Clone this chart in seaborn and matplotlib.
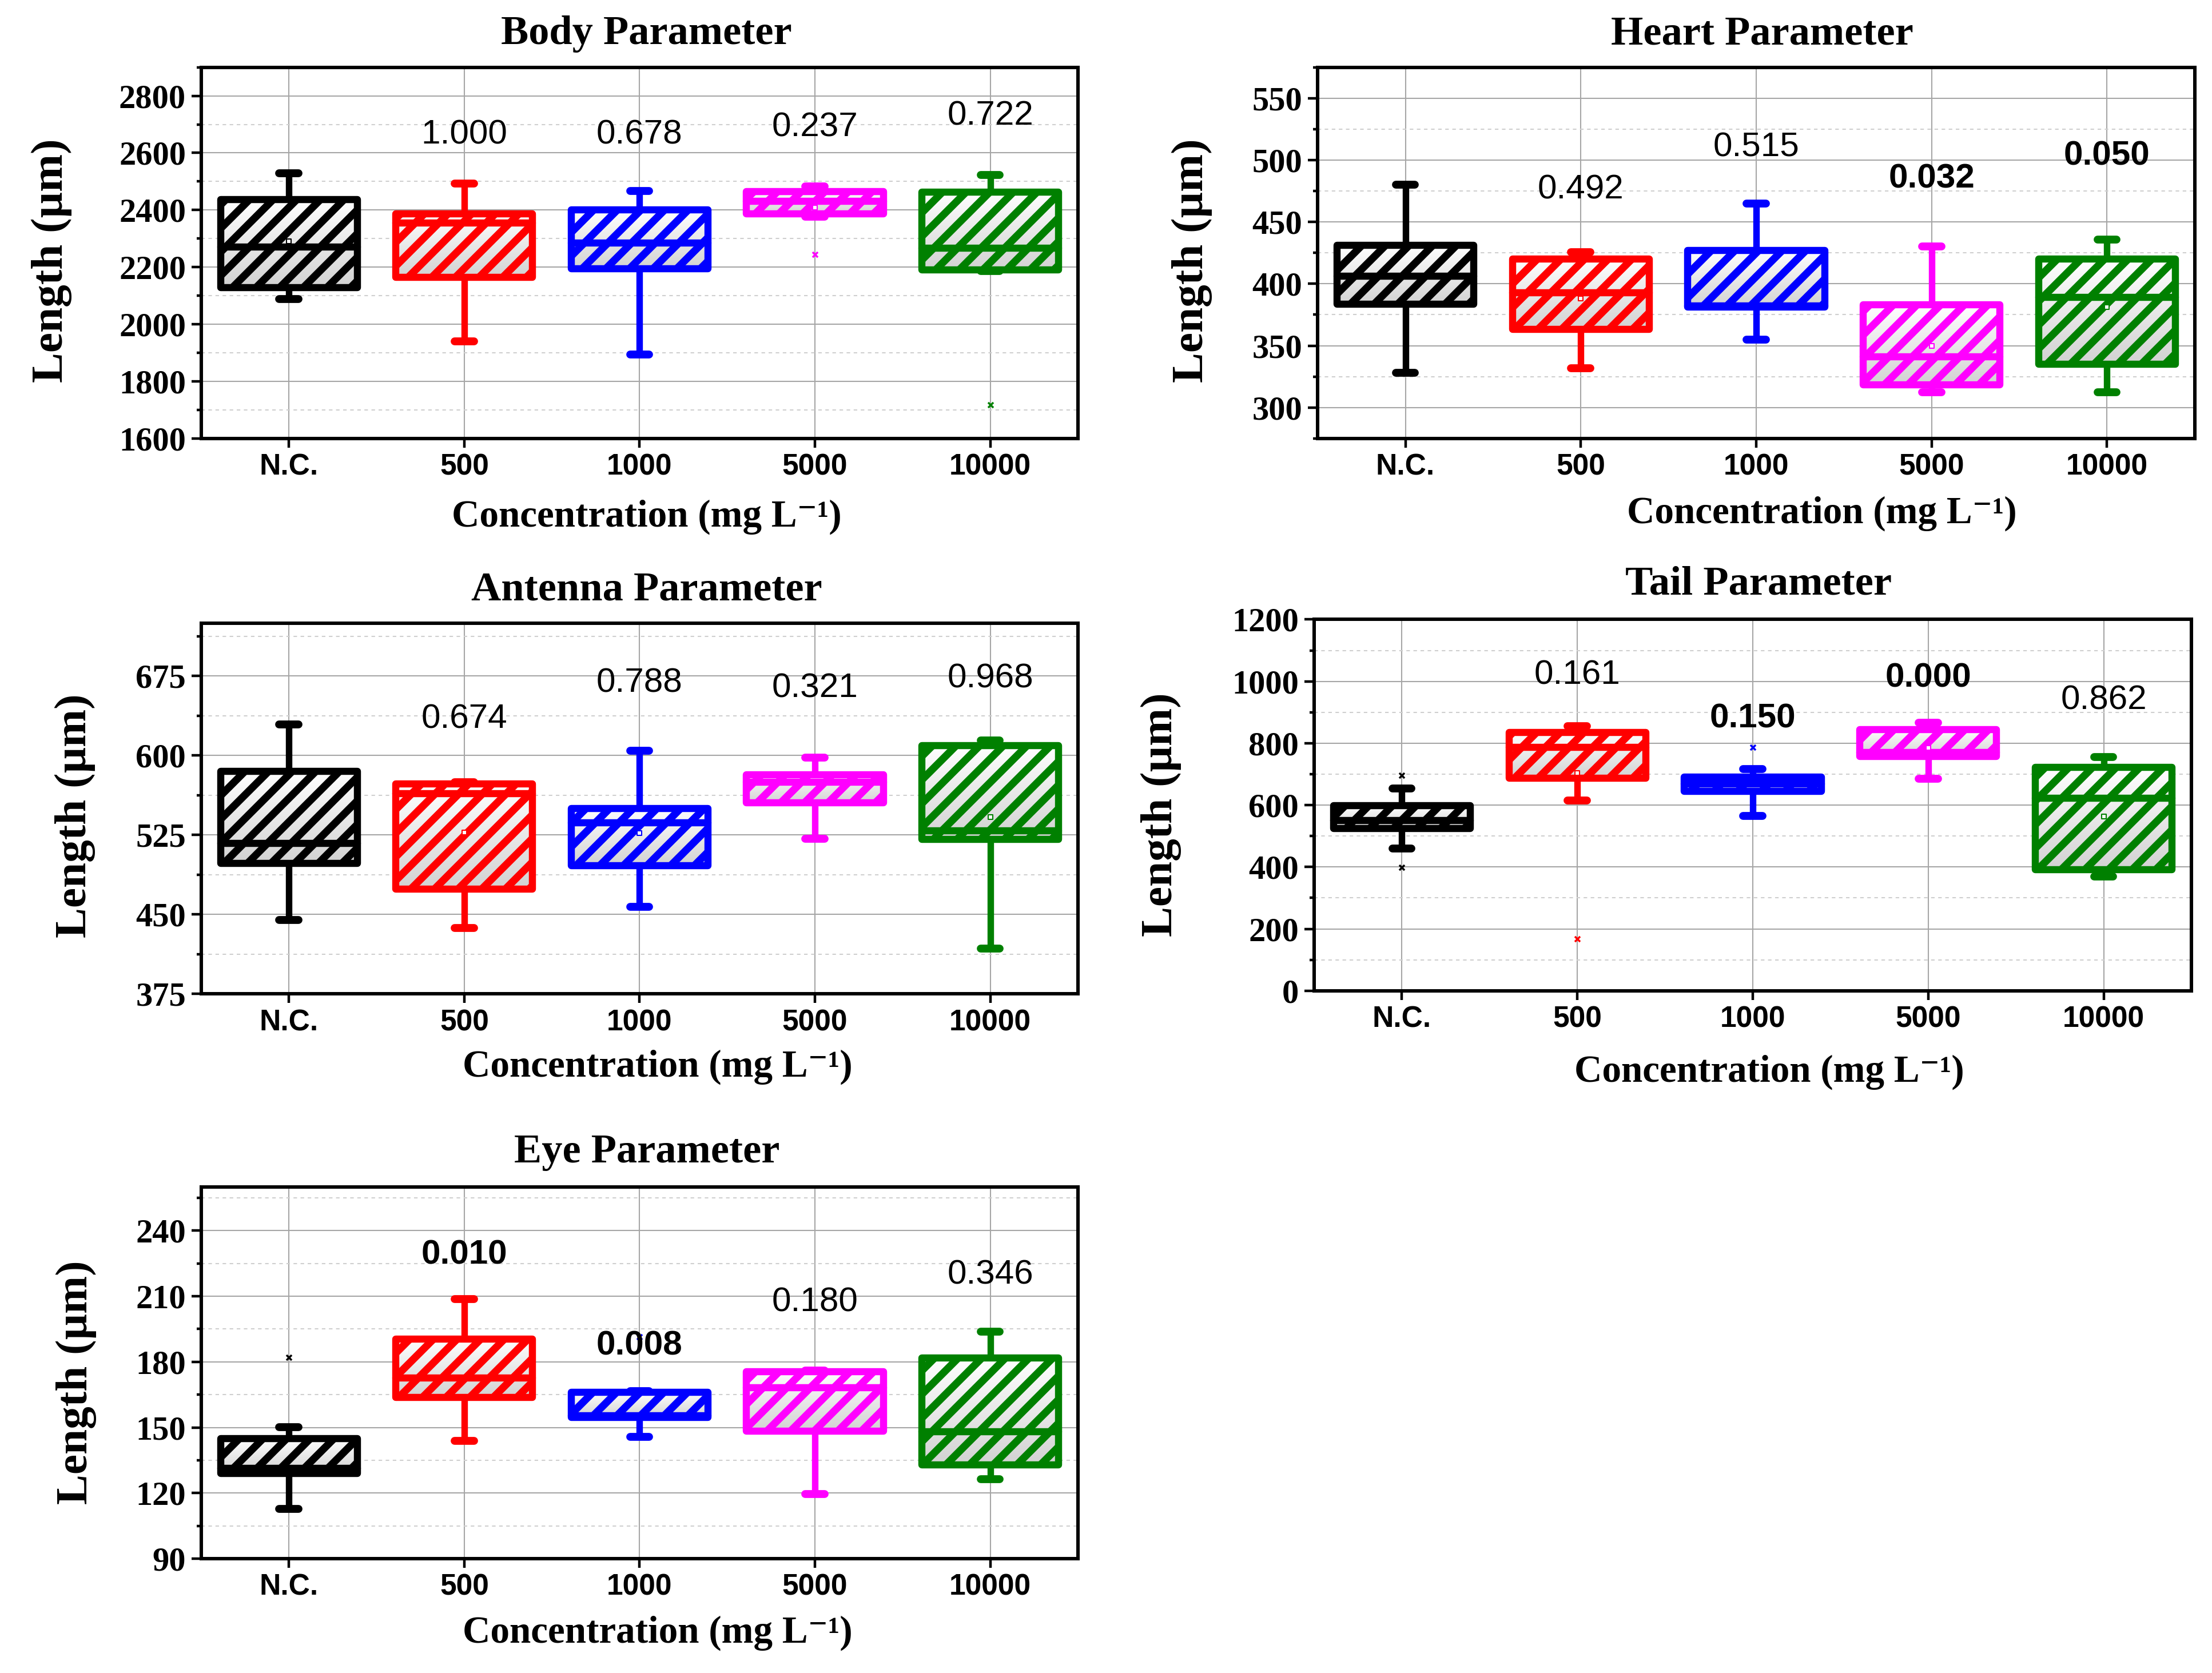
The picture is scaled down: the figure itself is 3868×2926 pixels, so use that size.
import numpy as np
import pandas as pd
import matplotlib
matplotlib.use("Agg")
import matplotlib.pyplot as plt
import seaborn as sns
from matplotlib.colors import LinearSegmentedColormap
from matplotlib.patches import PathPatch
from matplotlib.ticker import MultipleLocator

# ---------------- data ----------------
categories = ["N.C.", "500", "1000", "5000", "10000"]
box_colors = ["#000000", "#ff0000", "#0000ff", "#ff00ff", "#008000"]

# five-number summaries per concentration: whisker low, Q1, median, Q3, whisker high
body_stats = [[2088, 2128, 2270, 2437, 2529],
              [1941, 2165, 2354, 2387, 2492],
              [1894, 2195, 2284, 2400, 2467],
              [2377, 2387, 2430, 2465, 2483],
              [2186, 2190, 2266, 2463, 2523]]
body_pvalues = ["1.000", "0.678", "0.237", "0.722"]
body_pvalue_cat = ["500", "1000", "5000", "10000"]
body_pvalue_y = [2662, 2662, 2689, 2730]
body_pvalue_bold = [False, False, False, False]
body_outlier_cat = ["5000", "10000"]
body_outlier_val = [2245, 1717]
body_mean_cat = ["N.C.", "5000"]
body_mean_val = [2290, 2409]

heart_stats = [[328, 383.5, 406, 431, 480],
               [332, 363, 393, 420, 425.6],
               [355, 381, 382, 427, 465],
               [312.5, 318.6, 341, 383, 430],
               [312.5, 335, 389, 420, 435.7]]
heart_pvalues = ["0.492", "0.515", "0.032", "0.050"]
heart_pvalue_cat = ["500", "1000", "5000", "10000"]
heart_pvalue_y = [475.8, 510, 484.5, 503.3]
heart_pvalue_bold = [False, False, True, True]
heart_outlier_cat = []
heart_outlier_val = []
heart_mean_cat = ["500", "5000", "10000"]
heart_mean_val = [388, 350, 381]

antenna_stats = [[445, 498, 517, 585, 629.4],
                 [437, 474, 564, 573, 575],
                 [457, 496, 536.6, 550, 604.5],
                 [521.4, 555.3, 574.7, 582, 598.2],
                 [418, 521, 529, 609.4, 614]]
antenna_pvalues = ["0.674", "0.788", "0.321", "0.968"]
antenna_pvalue_cat = ["500", "1000", "5000", "10000"]
antenna_pvalue_y = [634, 668.4, 663.5, 672.7]
antenna_pvalue_bold = [False, False, False, False]
antenna_outlier_cat = []
antenna_outlier_val = []
antenna_mean_cat = ["500", "1000", "10000"]
antenna_mean_val = [527.5, 527, 542]

tail_stats = [[460, 525, 550, 598, 654.5],
              [615, 688, 786.5, 835, 854.4],
              [565.5, 644.5, 669.3, 690.7, 716.7],
              [686, 758, 771, 845, 866.7],
              [370, 392, 623, 722, 756]]
tail_pvalues = ["0.161", "0.150", "0.000", "0.862"]
tail_pvalue_cat = ["500", "1000", "5000", "10000"]
tail_pvalue_y = [1020, 879.6, 1011, 938]
tail_pvalue_bold = [False, True, True, False]
tail_outlier_cat = ["N.C.", "N.C.", "500", "1000"]
tail_outlier_val = [696, 398, 168, 786.5]
tail_mean_cat = ["500", "5000", "10000"]
tail_mean_val = [703, 784.6, 564]

eye_stats = [[112.7, 129, 131.3, 145, 150.2],
             [143.8, 163.8, 172.7, 190.5, 208.8],
             [145.8, 154.5, 155.5, 166, 166.5],
             [119.7, 148.4, 168.2, 175.6, 176],
             [126.3, 133, 148, 181.8, 193.8]]
eye_pvalues = ["0.010", "0.008", "0.180", "0.346"]
eye_pvalue_cat = ["500", "1000", "5000", "10000"]
eye_pvalue_y = [228.8, 187.2, 207.2, 219.7]
eye_pvalue_bold = [True, True, False, False]
eye_outlier_cat = ["N.C.", "1000"]
eye_outlier_val = [182, 191.4]
eye_mean_cat = []
eye_mean_val = []

# ---------------- style ----------------
sns.set_style("white")
DPI = 248
plt.rcParams.update({
    "hatch.linewidth": 3.8,
    "axes.linewidth": 1.75,
    "xtick.direction": "out",
    "ytick.direction": "out",
    "xtick.major.size": 4.5,
    "ytick.major.size": 4.8,
    "ytick.minor.size": 2.4,
    "xtick.major.width": 1.3,
    "ytick.major.width": 1.3,
    "ytick.minor.width": 1.3,
    "xtick.major.pad": 3,
    "ytick.major.pad": 3,
    "axes.edgecolor": "black",
    "text.color": "black",
    "axes.labelcolor": "black",
    "xtick.color": "black",
    "ytick.color": "black",
})

SERIF = ["Liberation Serif", "DejaVu Serif"]
SANS = ["Liberation Sans", "DejaVu Sans"]
grad_cmap = LinearSegmentedColormap.from_list("boxgrad", ["#ffffff", "#d2d2d2"])
grad = np.linspace(1, 0, 256).reshape(-1, 1)


def draw_panel(ax, title, stats, ylim, ystep, pv_cat, pv_txt, pv_y, pv_bold,
               out_cat, out_val, mean_cat, mean_val,
               title_xy, xlabel_xy, ylabel_xy):
    for i, cat in enumerate(categories):
        c = box_colors[i]
        df = pd.DataFrame({"Concentration": [cat] * len(stats[i]),
                           "Length": stats[i]})
        sns.boxplot(data=df, x="Concentration", y="Length", order=categories,
                    color=c, linecolor=c, linewidth=3.6, width=0.78,
                    whis=(0, 100), showfliers=False, ax=ax, capwidths=0.11,
                    medianprops=dict(linewidth=3.6, solid_capstyle="round"),
                    whiskerprops=dict(linewidth=3.3),
                    capprops=dict(linewidth=4.0, solid_capstyle="round"))

    for p in list(ax.patches):
        if isinstance(p, PathPatch):
            ec = p.get_edgecolor()
            p.set_facecolor("none")
            p.set_edgecolor(ec)
            p.set_hatch("//")
            p.set_joinstyle("round")
            bb = p.get_path().get_extents()
            im = ax.imshow(grad, extent=(bb.x0, bb.x1, bb.y0, bb.y1),
                           aspect="auto", cmap=grad_cmap, vmin=0, vmax=1,
                           origin="lower", interpolation="bilinear",
                           zorder=p.get_zorder() - 0.05)
            im.set_clip_path(p)

    for cat, v in zip(out_cat, out_val):
        idx = categories.index(cat)
        sns.scatterplot(x=[idx], y=[v], marker="x", s=7, linewidth=1.0,
                        color=box_colors[idx], ax=ax, zorder=6, legend=False)
    for cat, v in zip(mean_cat, mean_val):
        idx = categories.index(cat)
        sns.scatterplot(x=[idx], y=[v], marker="s", s=5, linewidth=0.6,
                        color=box_colors[idx], edgecolor=box_colors[idx],
                        facecolor="white", ax=ax, zorder=6, legend=False)

    for cat, t, yv, b in zip(pv_cat, pv_txt, pv_y, pv_bold):
        ax.text(categories.index(cat), yv, t, ha="center", va="center",
                fontsize=17.5, fontweight="bold" if b else "normal",
                family=SANS, color="black", zorder=7)

    ax.set_xlim(-0.5, 4.5)
    ax.set_ylim(*ylim)
    yt = np.arange(ylim[0] if (ylim[0] % ystep == 0) else (ylim[0] // ystep + 1) * ystep,
                   ylim[1] + 1e-9, ystep)
    yt = [v for v in yt if v < ylim[1] - 1e-9 or ylim[1] % ystep == 0]
    ax.set_yticks(yt)
    ax.yaxis.set_minor_locator(MultipleLocator(ystep / 2))
    ax.set_xticks(range(len(categories)))
    ax.set_xticklabels(categories)
    for lab in ax.get_xticklabels():
        lab.set_fontfamily(SANS)
        lab.set_fontweight("bold")
        lab.set_fontsize(15)
    ax.set_yticklabels([f"{int(v)}" if float(v).is_integer() else f"{v}" for v in yt])
    for lab in ax.get_yticklabels():
        lab.set_fontfamily(SERIF)
        lab.set_fontweight("bold")
        lab.set_fontsize(17)

    ax.set_axisbelow(True)
    ax.grid(which="major", axis="both", color="#a6a6a6", linewidth=0.6)
    ax.grid(which="minor", axis="y", color="#cfcfcf", linewidth=0.6,
            linestyle=(0, (3, 3)))
    ax.tick_params(axis="both", which="both", left=True, bottom=True,
                   top=False, right=False, colors="black")
    ax.tick_params(axis="x", which="minor", bottom=False)
    for s in ax.spines.values():
        s.set_visible(True)
        s.set_color("black")
        s.set_linewidth(1.75)

    ax.text(title_xy[0], title_xy[1], title, transform=ax.transAxes,
            ha="center", va="center", fontsize=21, fontweight="bold",
            family=SERIF, color="black")
    ax.set_xlabel("Concentration (mg L\u207b\u00b9)", fontsize=19.5,
                  fontweight="bold", family=SERIF, color="black")
    ax.xaxis.set_label_coords(*xlabel_xy)
    ax.xaxis.label.set_va("center")
    ax.set_ylabel("Length (\u00b5m)", fontsize=23, fontweight="bold",
                  family=SERIF, color="black")
    ax.yaxis.set_label_coords(*ylabel_xy)
    ax.yaxis.label.set_va("center")


fig = plt.figure(figsize=(3868 / DPI, 2926 / DPI), dpi=DPI)
fig.patch.set_facecolor("white")

ax_body = fig.add_axes([0.0910, 0.7379, 0.3963, 0.2219])
ax_heart = fig.add_axes([0.5957, 0.7379, 0.3965, 0.2219])
ax_ant = fig.add_axes([0.0910, 0.4059, 0.3963, 0.2217])
ax_tail = fig.add_axes([0.5941, 0.4078, 0.3966, 0.2219])
ax_eye = fig.add_axes([0.0910, 0.0683, 0.3963, 0.2223])

draw_panel(ax_body, "Body Parameter", body_stats, (1600, 2900), 200,
           body_pvalue_cat, body_pvalues, body_pvalue_y, body_pvalue_bold,
           body_outlier_cat, body_outlier_val, body_mean_cat, body_mean_val,
           (0.508, 1.089), (0.508, -0.212), (-0.171, 0.48))
draw_panel(ax_heart, "Heart Parameter", heart_stats, (275, 575), 50,
           heart_pvalue_cat, heart_pvalues, heart_pvalue_y, heart_pvalue_bold,
           heart_outlier_cat, heart_outlier_val, heart_mean_cat, heart_mean_val,
           (0.507, 1.089), (0.575, -0.202), (-0.1435, 0.48))
draw_panel(ax_ant, "Antenna Parameter", antenna_stats, (375, 725), 75,
           antenna_pvalue_cat, antenna_pvalues, antenna_pvalue_y, antenna_pvalue_bold,
           antenna_outlier_cat, antenna_outlier_val, antenna_mean_cat, antenna_mean_val,
           (0.508, 1.089), (0.5206, -0.197), (-0.1439, 0.48))
draw_panel(ax_tail, "Tail Parameter", tail_stats, (0, 1200), 200,
           tail_pvalue_cat, tail_pvalues, tail_pvalue_y, tail_pvalue_bold,
           tail_outlier_cat, tail_outlier_val, tail_mean_cat, tail_mean_val,
           (0.5065, 1.094), (0.519, -0.219), (-0.1742, 0.475))
draw_panel(ax_eye, "Eye Parameter", eye_stats, (90, 260), 30,
           eye_pvalue_cat, eye_pvalues, eye_pvalue_y, eye_pvalue_bold,
           eye_outlier_cat, eye_outlier_val, eye_mean_cat, eye_mean_val,
           (0.508, 1.092), (0.5206, -0.1995), (-0.1426, 0.475))

fig.savefig("out.png", dpi=DPI, facecolor="white")
